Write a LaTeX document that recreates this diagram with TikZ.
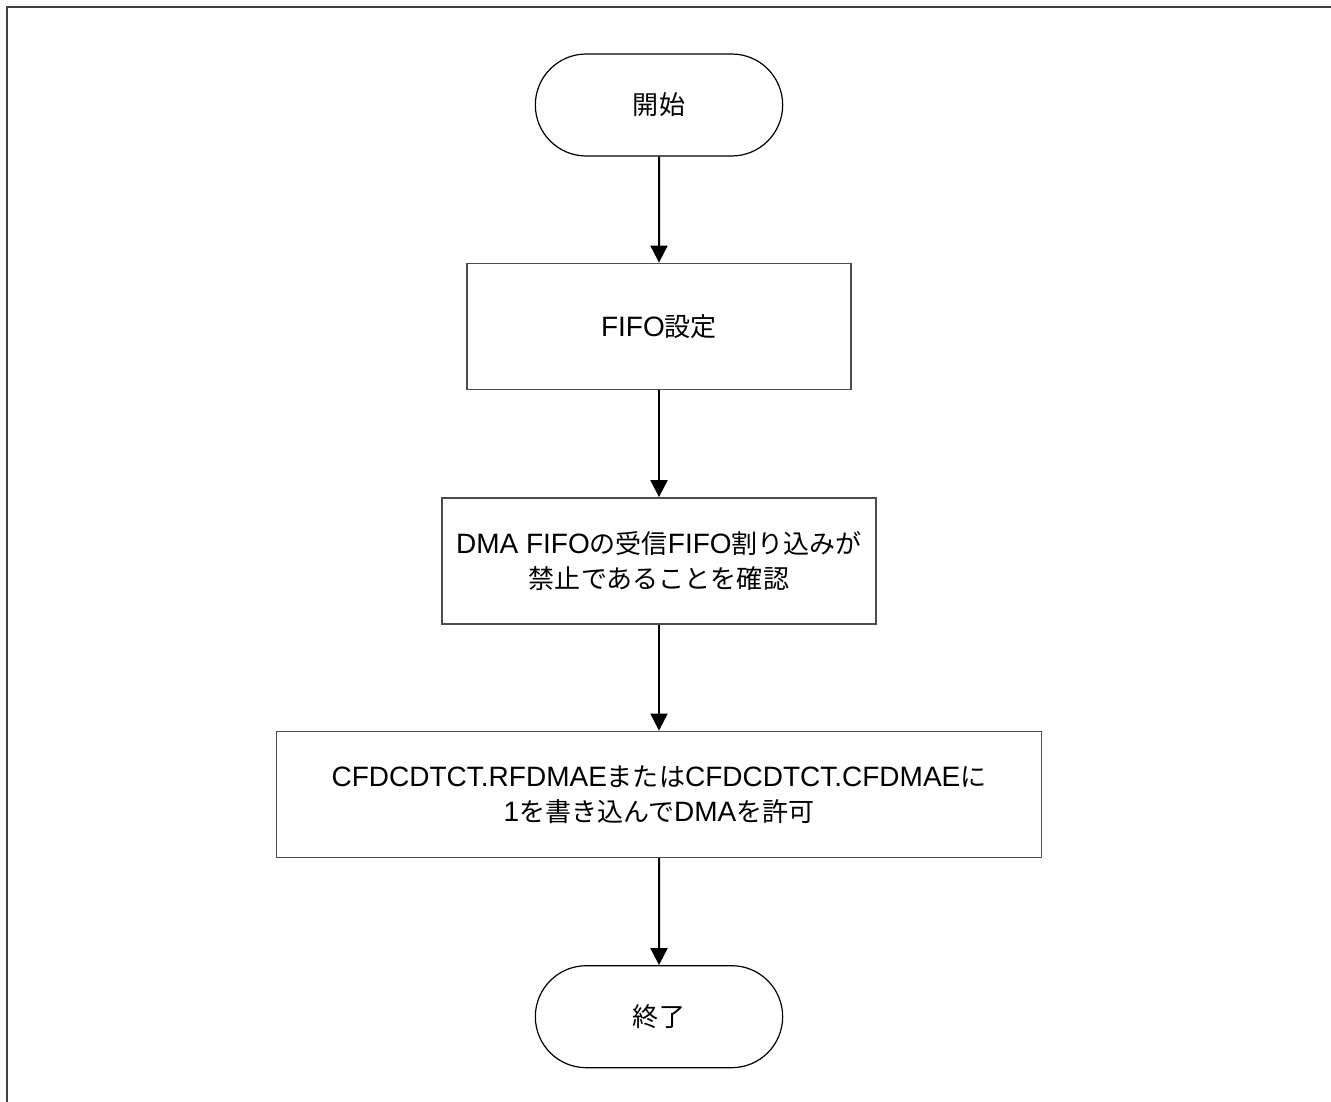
\documentclass[tikz,border=0pt]{standalone}
\usepackage{fontspec}
\setmainfont{Liberation Sans}
\newfontfamily\jp[Scale=0.93]{Noto Sans CJK JP}
\usepackage{tikz}
\usetikzlibrary{arrows.meta,positioning,shapes.misc}
\newcommand\boxfont{\fontsize{28pt}{35pt}\selectfont}

\begin{document}
\begin{tikzpicture}[
  node distance=106pt,
  term/.style={draw,rounded rectangle,minimum width=254pt,minimum height=102pt,
              line width=1.2pt,font=\boxfont},
  proc/.style={draw=black!70,line width=1.5pt,align=center,minimum height=126pt,
              font=\boxfont},
  arr/.style={-{Triangle[length=17pt,width=17pt]},line width=2pt},
  frame/.style={draw=black!75,line width=2pt}]
\useasboundingbox (0,0) rectangle (1331pt,-1102pt);
\draw[frame] (7pt,-1102pt) -- (7pt,-7.5pt) -- (1331pt,-7.5pt);
\node[term] (start) at (659pt,-105pt) {\jp 開始};
\node[proc,minimum width=384pt,below=of start] (fifo) {FIFO{\jp 設定}};
\node[proc,minimum width=434pt,below=107pt of fifo] (check)
  {DMA FIFO{\jp の受信}FIFO{\jp 割り込みが}\\{\jp 禁止であることを確認}};
\node[proc,minimum width=765pt,below=106pt of check] (enable)
  {CFDCDTCT.RFDMAE{\jp または}CFDCDTCT.CFDMAE{\jp に}\\1{\jp を書き込んで}DMA{\jp を許可}};
\node[term,below=107pt of enable] (stop) {\jp 終了};
\draw[arr](start)--(fifo);
\draw[arr](fifo)--(check);
\draw[arr](check)--(enable);
\draw[arr](enable)--(stop);
\end{tikzpicture}
\end{document}
